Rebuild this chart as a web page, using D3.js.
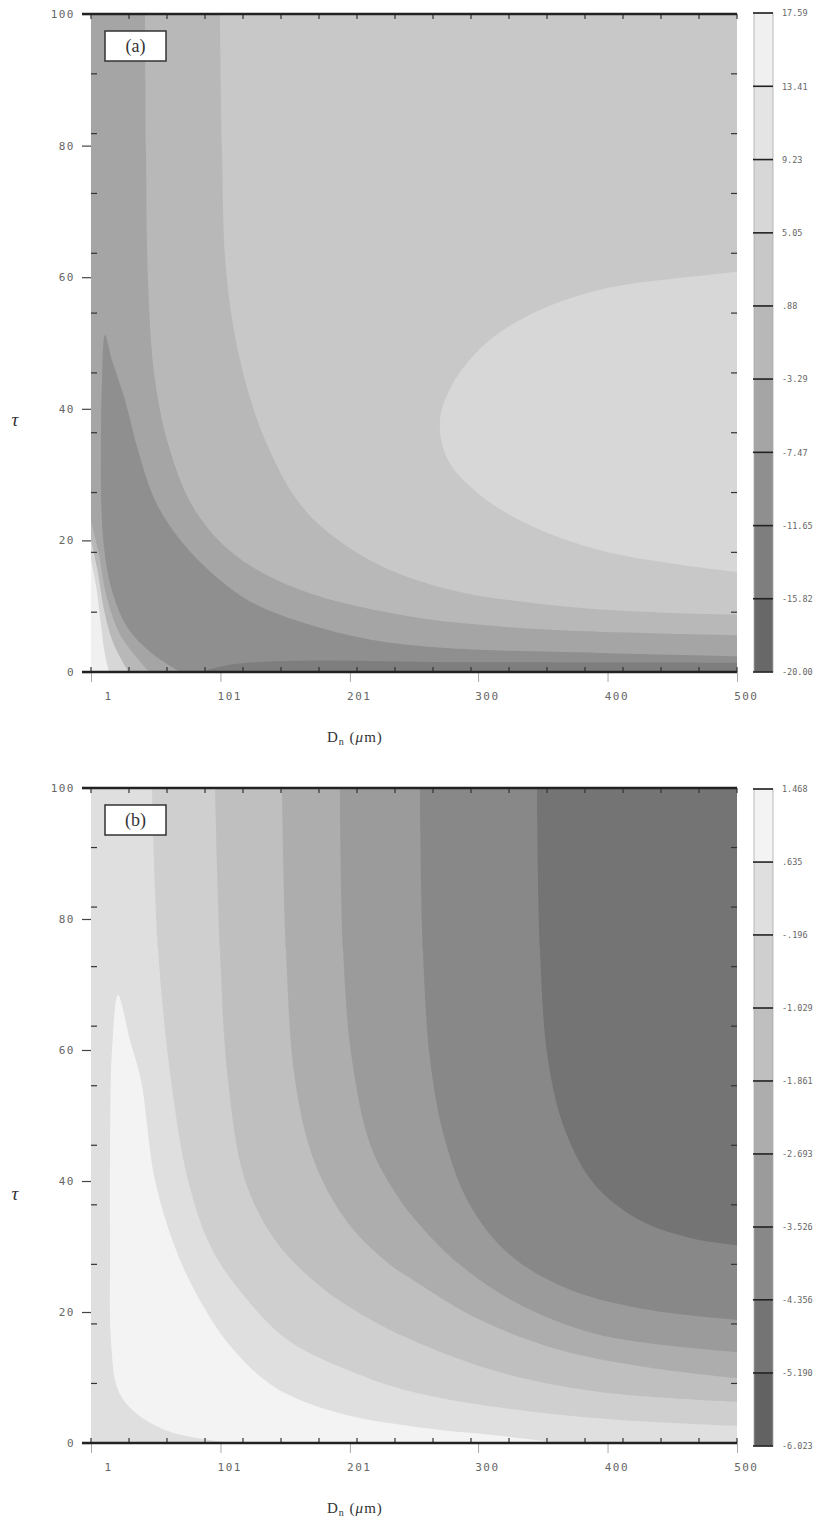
<!DOCTYPE html>
<html>
<head>
<meta charset="utf-8">
<script src="https://cdn.jsdelivr.net/npm/d3@7"></script>
<style>
body { margin: 0; background: #fff; }
svg text { font-family: "DejaVu Sans Mono", monospace; }
</style>
</head>
<body>
<div id="chart"></div>
<script>
// Axis ticks
var xTicks = [1, 101, 201, 300, 400, 500];
var tauTicks = [0, 20, 40, 60, 80, 100];

// Contour levels (colorbar) for both panels
var aLevels = [-20.00, -15.82, -11.65, -7.47, -3.29, 0.88, 5.05, 9.23, 13.41, 17.59];
var aLevelLabels = ["-20.00", "-15.82", "-11.65", "-7.47", "-3.29", ".88", "5.05", "9.23", "13.41", "17.59"];
var bLevels = [-6.023, -5.190, -4.356, -3.526, -2.693, -1.861, -1.029, -0.196, 0.635, 1.468];
var bLevelLabels = ["-6.023", "-5.190", "-4.356", "-3.526", "-2.693", "-1.861", "-1.029", "-.196", ".635", "1.468"];

// Panel (a) contour boundaries, [Dn, tau]
var aEllipse = [[500, 60.8], [456, 59.9], [394.2, 58.1], [347.8, 55.0], [309.2, 50.5], [282.2, 44.4], [270.6, 38.3],
  [276.8, 32.2], [301.5, 26.9], [340.1, 22.3], [394.2, 18.5], [456, 16.3], [500, 15.2]];
var aEdge088 = [[100.6, 100], [102.2, 79.3], [105.3, 61.1], [116.1, 47.4], [135.4, 35.3], [166.3, 24.6], [216.5, 17.0],
  [278.3, 12.5], [355.5, 10.2], [432.8, 9.1], [500, 8.7]];
var aEdgeM329 = [[42.7, 100], [43.5, 79.3], [45.0, 59.6], [50.4, 44.4], [62.0, 33.7], [81.3, 24.6], [112.2, 17.8],
  [162.4, 12.5], [239.7, 8.7], [332.4, 6.7], [500, 5.6]];
var aDark = [[70, 0], [47, 3.0], [29, 6.8], [17, 12.5], [11, 19], [8.9, 26], [8.7, 33.7], [9.5, 44.4], [11.8, 51.2],
  [17.2, 47.4], [27.3, 41.3], [37.3, 33.7], [50.4, 26.1], [65.9, 21.1], [89.1, 16.0], [122.3, 10.9], [166.3, 7.4],
  [217.3, 4.9], [278.3, 3.6], [394.2, 2.9], [500, 2.4]];
var aBottom = [[85, 0], [112, 1.2], [162.4, 1.7], [278.3, 1.5], [500, 1.4]];
var aCorner1 = [[1, 23], [7, 18], [13, 11.5], [24, 5.5], [46, 0]];
var aCorner2 = [[1, 20], [6, 15.5], [11, 9.5], [18, 4.5], [30, 0]];
var aSpot = [[1, 17], [5, 13], [8.5, 7.5], [11.5, 3], [15, 0]];

// Panel (b) contour boundaries, [Dn, tau]
var bEdge4356 = [[345.5, 100], [347.8, 75.3], [354, 58.5], [367.1, 47.8], [390.3, 39.4], [425.1, 34.0], [463.7, 31.3], [500, 30.2]];
var bEdge3526 = [[255.1, 100], [257.4, 75.3], [262.9, 58.5], [274.4, 46.3], [293.8, 36.3], [324.7, 28.7], [371, 23.4],
  [432.8, 20.3], [500, 18.8]];
var bEdge2693 = [[193.3, 100], [195.7, 75.3], [202.6, 58.5], [217.3, 45.2], [238.1, 37.6], [253.6, 33.6], [286, 27.2],
  [332.4, 21.1], [394.2, 16.5], [500, 13.9]];
var bEdge1861 = [[148.5, 100], [151.6, 75.3], [158.6, 55.4], [174, 42.7], [199.5, 33.6], [230.4, 27.5], [253.6, 24.4],
  [301.5, 18.8], [363.3, 14.2], [432.8, 11.5], [500, 9.9]];
var bEdge1029 = [[96.8, 100], [100.6, 75.3], [106.8, 55.4], [119.9, 40.2], [143.1, 31.0], [178.7, 23.8], [217.3, 18.8],
  [253.6, 15.3], [316.9, 10.8], [394.2, 7.8], [500, 6.3]];
var bEdge0196 = [[48.1, 100], [52.8, 75.3], [62.8, 55.4], [75.9, 40.2], [93.7, 29.9], [119.9, 22.3], [153.2, 15.7],
  [204.9, 10.7], [253.6, 7.6], [332.4, 5.0], [409.6, 3.5], [500, 2.6]];
var bWhite = [[108.4, 0], [62, 1.7], [35, 4.7], [21.9, 8.1], [16.4, 15.7], [15.7, 29.5], [15.7, 44.7], [17.2, 60],
  [21.9, 68.4], [31.1, 61.5], [39.6, 55.4], [50.4, 40.2], [65.9, 29.9], [83.7, 22.3], [109.1, 14.7], [143.1, 8.5],
  [191.8, 4.6], [253.6, 2.4], [316.9, 1.1], [363.3, 0]];

// gray ramps, darkest band first
var aColors = ["#686868", "#7e7e7e", "#8f8f8f", "#a5a5a5", "#b8b8b8", "#c8c8c8", "#d7d7d7", "#e4e4e4", "#f0f0f0"];
var bColors = ["#626262", "#747474", "#888888", "#9b9b9b", "#adadad", "#bfbfbf", "#cfcfcf", "#dfdfdf", "#f3f3f3"];

var allCorners = [[500, 0], [1, 0], [1, 100]];
var rightCorner = [[500, 0]];
var leftCorner = [[1, 0]];

var panels = [
  { tag: "a", top: 14, bottom: 672, cbTop: 13, cbBottom: 672, levels: aLevels, labels: aLevelLabels, colors: aColors,
    base: 0.88,
    regions: [
      { level: 5.05, pts: aEllipse, corners: [] },
      { level: -3.29, pts: aEdge088, corners: allCorners },
      { level: -7.47, pts: aEdgeM329, corners: allCorners },
      { level: -11.65, pts: aDark, corners: rightCorner },
      { level: -15.82, pts: aBottom, corners: rightCorner },
      { level: -3.29, pts: aCorner1, corners: leftCorner },
      { level: 5.05, pts: aCorner2, corners: leftCorner },
      { level: 13.41, pts: aSpot, corners: leftCorner }
    ] },
  { tag: "b", top: 788, bottom: 1443, cbTop: 789, cbBottom: 1446, levels: bLevels, labels: bLevelLabels, colors: bColors,
    base: -5.190,
    regions: [
      { level: -4.356, pts: bEdge4356, corners: allCorners },
      { level: -3.526, pts: bEdge3526, corners: allCorners },
      { level: -2.693, pts: bEdge2693, corners: allCorners },
      { level: -1.861, pts: bEdge1861, corners: allCorners },
      { level: -1.029, pts: bEdge1029, corners: allCorners },
      { level: -0.196, pts: bEdge0196, corners: allCorners },
      { level: 0.635, pts: bWhite, corners: [] }
    ] }
];

var svg = d3.select("#chart")
  .append("svg")
  .attr("width", 820)
  .attr("height", 1522);

var left = 91, right = 737;

panels.forEach(function(p) {
  var x = d3.scaleLinear().domain([1, 500]).range([left, right]);
  var y = d3.scaleLinear().domain([0, 100]).range([p.bottom, p.top]);
  var color = d3.scaleThreshold().domain(p.levels.slice(1, -1)).range(p.colors);

  var g = svg.append("g");

  svg.append("clipPath").attr("id", "clip-" + p.tag)
    .append("rect")
    .attr("x", left).attr("y", p.top)
    .attr("width", right - left).attr("height", p.bottom - p.top);

  var plot = g.append("g").attr("clip-path", "url(#clip-" + p.tag + ")");

  plot.append("rect")
    .attr("x", left).attr("y", p.top)
    .attr("width", right - left).attr("height", p.bottom - p.top)
    .attr("fill", color(p.base));

  var line = d3.line()
    .x(d => x(d[0]))
    .y(d => y(d[1]))
    .curve(d3.curveCatmullRom.alpha(0.5));

  p.regions.forEach(function(r) {
    var d = line(r.pts);
    r.corners.forEach(c => { d += "L" + x(c[0]) + "," + y(c[1]); });
    plot.append("path").attr("d", d + "Z").attr("fill", color(r.level));
  });

  // inner minor ticks
  var xMinor = d3.range(18).map(k => 1 + k * 499 / 17);
  var yMinor = d3.range(12).map(k => k * 100 / 11);
  var minor = g.append("g").attr("stroke", "#333").attr("stroke-width", 1.2);
  xMinor.forEach(function(v) {
    minor.append("line").attr("x1", x(v)).attr("x2", x(v)).attr("y1", p.bottom).attr("y2", p.bottom - 5);
    minor.append("line").attr("x1", x(v)).attr("x2", x(v)).attr("y1", p.top).attr("y2", p.top + 5);
  });
  yMinor.forEach(function(v) {
    minor.append("line").attr("x1", left).attr("x2", left + 6).attr("y1", y(v)).attr("y2", y(v));
    minor.append("line").attr("x1", right).attr("x2", right - 6).attr("y1", y(v)).attr("y2", y(v));
  });

  // bottom axis
  var xAxis = g.append("g")
    .attr("transform", `translate(0, ${p.bottom})`)
    .call(d3.axisBottom(x).tickValues(xTicks).tickSize(10).tickFormat(d3.format("d")));
  xAxis.select(".domain").remove();
  xAxis.selectAll(".tick line").attr("stroke", "#aaa");
  xAxis.selectAll(".tick text")
    .attr("x", 21).attr("y", 20)
    .attr("text-anchor", "end")
    .attr("font-family", "DejaVu Sans Mono")
    .attr("font-size", 11)
    .attr("letter-spacing", 1.5)
    .attr("fill", "#666");

  // left axis
  var yAxis = g.append("g")
    .attr("transform", `translate(${left}, 0)`)
    .call(d3.axisLeft(y).tickValues(tauTicks).tickSize(9).tickPadding(7).tickFormat(d3.format("d")));
  yAxis.select(".domain").remove();
  yAxis.selectAll(".tick line").attr("stroke", "#444").attr("stroke-width", 1.2);
  yAxis.selectAll(".tick text")
    .attr("font-family", "DejaVu Sans Mono")
    .attr("font-size", 11)
    .attr("letter-spacing", 1.5)
    .attr("fill", "#666");

  // frame lines top and bottom
  g.append("line").attr("x1", 82).attr("x2", right).attr("y1", p.top).attr("y2", p.top)
    .attr("stroke", "#222").attr("stroke-width", 2.5);
  g.append("line").attr("x1", 82).attr("x2", right).attr("y1", p.bottom).attr("y2", p.bottom)
    .attr("stroke", "#222").attr("stroke-width", 2.5);

  // panel tag box
  g.append("rect")
    .attr("x", 105).attr("y", p.top + 17)
    .attr("width", 61).attr("height", 30)
    .attr("fill", "#fff").attr("stroke", "#333").attr("stroke-width", 1.5);
  g.append("text")
    .attr("x", 135.5).attr("y", p.top + 38)
    .attr("text-anchor", "middle")
    .style("font-family", "Liberation Serif")
    .attr("font-size", 18)
    .attr("fill", "#333")
    .text("(" + p.tag + ")");

  // axis titles
  var xt = g.append("text")
    .attr("x", 327).attr("y", p.bottom + 70)
    .style("font-family", "Liberation Serif")
    .attr("font-size", 15)
    .attr("letter-spacing", 1)
    .attr("fill", "#333");
  xt.append("tspan").text("D");
  xt.append("tspan").attr("font-size", 10).attr("dy", 3).text("n");
  xt.append("tspan").attr("dy", -3).text(" (");
  xt.append("tspan").attr("font-style", "italic").text("\u03bc");
  xt.append("tspan").text("m)");

  g.append("text")
    .attr("x", 15).attr("y", p.top + 412)
    .attr("text-anchor", "middle")
    .style("font-family", "Liberation Serif")
    .attr("font-style", "italic")
    .attr("font-size", 19)
    .attr("fill", "#333")
    .text("\u03c4");

  // colorbar
  var cy = d3.scaleLinear().domain([p.levels[0], p.levels[p.levels.length - 1]]).range([p.cbBottom, p.cbTop]);
  var cb = g.append("g");
  cb.selectAll("rect.band")
    .data(d3.range(p.levels.length - 1))
    .enter()
    .append("rect")
    .attr("class", "band")
    .attr("x", 754).attr("width", 19)
    .attr("y", i => cy(p.levels[i + 1]))
    .attr("height", i => cy(p.levels[i]) - cy(p.levels[i + 1]))
    .attr("fill", i => p.colors[i]);
  cb.append("rect")
    .attr("x", 754).attr("y", p.cbTop).attr("width", 19).attr("height", p.cbBottom - p.cbTop)
    .attr("fill", "none").attr("stroke", "#aaa").attr("stroke-width", 0.8);
  cb.selectAll("line.lev")
    .data(p.levels)
    .enter()
    .append("line")
    .attr("class", "lev")
    .attr("x1", 753).attr("x2", 773)
    .attr("y1", d => cy(d)).attr("y2", d => cy(d))
    .attr("stroke", "#222").attr("stroke-width", 1.6);

  var cAxis = g.append("g")
    .attr("transform", "translate(773, 0)")
    .call(d3.axisRight(cy).tickValues(p.levels).tickSize(0).tickPadding(9)
      .tickFormat((d, i) => p.labels[i]));
  cAxis.select(".domain").remove();
  cAxis.selectAll(".tick text")
    .attr("font-family", "DejaVu Sans Mono")
    .attr("font-size", 8.5)
    .attr("fill", "#666");
});
</script>
</body>
</html>
